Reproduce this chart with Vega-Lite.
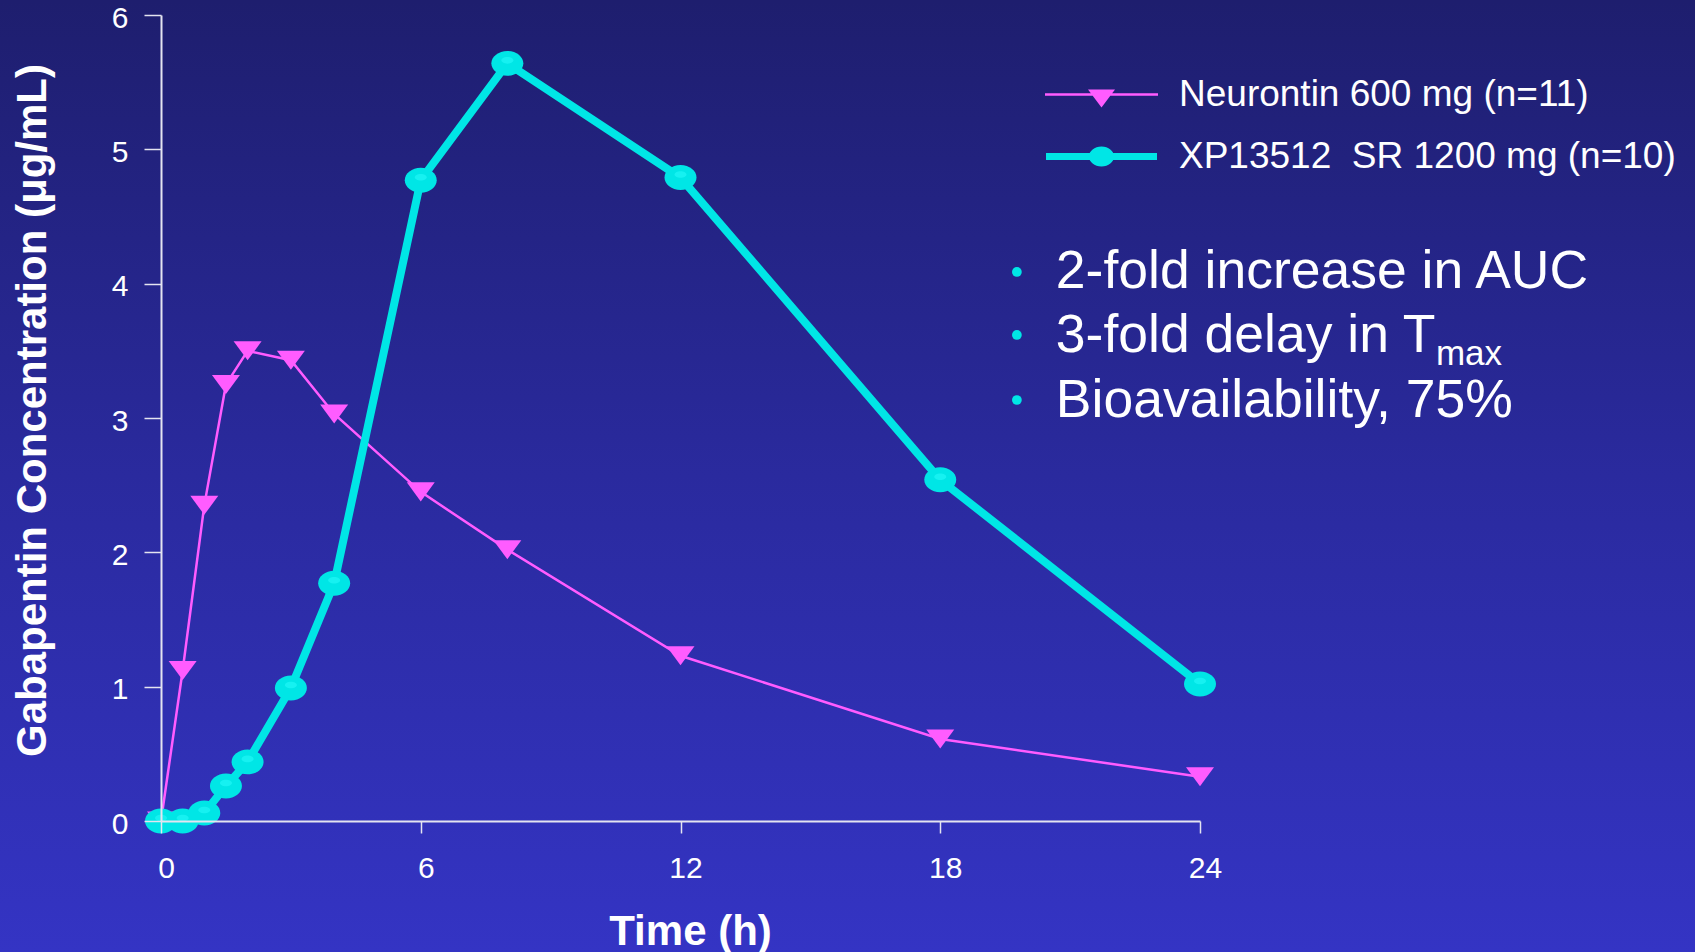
{
  "$schema": "https://vega.github.io/schema/vega-lite/v6.json",
  "width": 1039,
  "height": 806,
  "autosize": "none",
  "padding": {"left": 161, "top": 15, "right": 495, "bottom": 131},
  "background": "#2A2A9E",
  "config": {
    "font": "Liberation Sans",
    "view": {"stroke": null}
  },
  "data": {
    "values": [
      {"drug": "Neurontin 600 mg (n=11)", "time": 0, "conc": 0},
      {"drug": "Neurontin 600 mg (n=11)", "time": 0.5, "conc": 1.12},
      {"drug": "Neurontin 600 mg (n=11)", "time": 1, "conc": 2.35},
      {"drug": "Neurontin 600 mg (n=11)", "time": 1.5, "conc": 3.25},
      {"drug": "Neurontin 600 mg (n=11)", "time": 2, "conc": 3.5},
      {"drug": "Neurontin 600 mg (n=11)", "time": 3, "conc": 3.43},
      {"drug": "Neurontin 600 mg (n=11)", "time": 4, "conc": 3.03},
      {"drug": "Neurontin 600 mg (n=11)", "time": 6, "conc": 2.45},
      {"drug": "Neurontin 600 mg (n=11)", "time": 8, "conc": 2.02},
      {"drug": "Neurontin 600 mg (n=11)", "time": 12, "conc": 1.23},
      {"drug": "Neurontin 600 mg (n=11)", "time": 18, "conc": 0.61},
      {"drug": "Neurontin 600 mg (n=11)", "time": 24, "conc": 0.33},
      {"drug": "XP13512 SR 1200 mg (n=10)", "time": 0, "conc": 0},
      {"drug": "XP13512 SR 1200 mg (n=10)", "time": 0.5, "conc": 0},
      {"drug": "XP13512 SR 1200 mg (n=10)", "time": 1, "conc": 0.06},
      {"drug": "XP13512 SR 1200 mg (n=10)", "time": 1.5, "conc": 0.26},
      {"drug": "XP13512 SR 1200 mg (n=10)", "time": 2, "conc": 0.44},
      {"drug": "XP13512 SR 1200 mg (n=10)", "time": 3, "conc": 0.99},
      {"drug": "XP13512 SR 1200 mg (n=10)", "time": 4, "conc": 1.77},
      {"drug": "XP13512 SR 1200 mg (n=10)", "time": 6, "conc": 4.77},
      {"drug": "XP13512 SR 1200 mg (n=10)", "time": 8, "conc": 5.64},
      {"drug": "XP13512 SR 1200 mg (n=10)", "time": 12, "conc": 4.79},
      {"drug": "XP13512 SR 1200 mg (n=10)", "time": 18, "conc": 2.54},
      {"drug": "XP13512 SR 1200 mg (n=10)", "time": 24, "conc": 1.02}
    ]
  },
  "layer": [
    {
      "data": {"values": [{}]},
      "mark": {
        "type": "rect",
        "clip": false,
        "fill": {
          "gradient": "linear",
          "x1": 0, "y1": 0, "x2": 0, "y2": 1,
          "stops": [
            {"offset": 0.189, "color": "#1E1E6E"},
            {"offset": 0.543, "color": "#2A2A9E"},
            {"offset": 0.898, "color": "#3434C4"}
          ]
        }
      },
      "encoding": {
        "x": {
          "datum": -10, "type": "quantitative",
          "scale": {"domain": [0, 24], "nice": false, "zero": false},
          "axis": {
            "zindex": 1,
            "values": [0, 6, 12, 18, 24],
            "format": "d",
            "labelFlush": false,
            "labelOffset": 5,
            "title": "Time (h)",
            "grid": false,
            "domainColor": "#E4E4F0", "domainWidth": 2,
            "tickColor": "#E4E4F0", "tickWidth": 1.5, "tickSize": 12,
            "labelColor": "white", "labelFontSize": 30, "labelPadding": 20,
            "labelFont": "Liberation Sans",
            "titleColor": "white", "titleFontSize": 42, "titleFontWeight": "bold",
            "titleFont": "Liberation Sans",
            "titleX": 529, "titleY": 123, "titleBaseline": "alphabetic", "titleAlign": "center"
          }
        },
        "x2": {"datum": 40},
        "y": {
          "datum": -2, "type": "quantitative",
          "scale": {"domain": [0, 6], "nice": false, "zero": false},
          "axis": {
            "zindex": 1,
            "values": [0, 1, 2, 3, 4, 5, 6],
            "format": "d",
            "labelFlush": false,
            "labelOffset": 3,
            "title": "Gabapentin Concentration (μg/mL)",
            "grid": false,
            "domainColor": "#E4E4F0", "domainWidth": 2,
            "tickColor": "#E4E4F0", "tickWidth": 1.5, "tickSize": 17,
            "labelColor": "white", "labelFontSize": 30, "labelPadding": 16,
            "labelFont": "Liberation Sans",
            "titleColor": "white", "titleFontSize": 42, "titleFontWeight": "bold",
            "titleFont": "Liberation Sans",
            "titleX": -116, "titleY": 395, "titleBaseline": "alphabetic", "titleAlign": "center", "titleAngle": -90
          }
        },
        "y2": {"datum": 8}
      }
    },
    {
      "transform": [{"filter": "datum.drug === 'Neurontin 600 mg (n=11)'"}],
      "mark": {"type": "line", "strokeWidth": 2.5, "clip": false},
      "encoding": {
        "x": {"field": "time", "type": "quantitative", "scale": {"domain": [0, 24], "nice": false, "zero": false}},
        "y": {"field": "conc", "type": "quantitative", "scale": {"domain": [0, 6], "nice": false, "zero": false}},
        "color": {
          "field": "drug", "type": "nominal",
          "scale": {
            "domain": ["Neurontin 600 mg (n=11)", "XP13512 SR 1200 mg (n=10)"],
            "range": ["#FF5CFF", "#00E6E6"]
          },
          "legend": {
            "orient": "none",
            "legendX": 922,
            "legendY": 61,
            "title": null,
            "padding": 0,
            "symbolSize": 400,
            "symbolStrokeWidth": 0,
            "labelFontSize": 37,
            "labelFont": "Liberation Sans",
            "labelColor": "white",
            "labelOffset": 59,
            "labelLimit": 800,
            "rowPadding": 24,
            "labelExpr": "datum.label === 'XP13512 SR 1200 mg (n=10)' ? 'XP13512\u00a0\u00a0SR 1200 mg (n=10)' : datum.label",
            "encode": {
              "symbols": {
                "update": {
                  "shape": {"signal": "datum.value === 'Neurontin 600 mg (n=11)' ? 'M -5.65 -0.13 L 5.65 -0.13 L 5.65 0.13 L -5.65 0.13 Z M -1.35 -0.5 L 1.35 -0.5 L 0 1.3 Z' : 'M -5.55 -0.35 L 5.55 -0.35 L 5.55 0.35 L -5.55 0.35 Z M -1.25 0 A 1.25 1 0 1 1 1.25 0 A 1.25 1 0 1 1 -1.25 0 Z'"},
                  "fill": {"signal": "datum.value === 'Neurontin 600 mg (n=11)' ? '#FF5CFF' : '#00E6E6'"},
                  "stroke": {"value": "transparent"},
                  "strokeWidth": {"value": 0},
                  "opacity": {"value": 1}
                }
              }
            }
          }
        }
      }
    },
    {
      "transform": [{"filter": "datum.drug === 'Neurontin 600 mg (n=11)'"}],
      "mark": {
        "type": "point",
        "shape": "M -1 -0.68 L 1 -0.68 L 0 0.68 Z",
        "size": 784,
        "filled": true,
        "opacity": 1,
        "color": "#FF5CFF",
        "strokeWidth": 0,
        "clip": false
      },
      "encoding": {
        "x": {"field": "time", "type": "quantitative"},
        "y": {"field": "conc", "type": "quantitative"}
      }
    },
    {
      "transform": [{"filter": "datum.drug === 'XP13512 SR 1200 mg (n=10)'"}],
      "mark": {"type": "line", "strokeWidth": 8, "color": "#00E6E6", "clip": false},
      "encoding": {
        "x": {"field": "time", "type": "quantitative"},
        "y": {"field": "conc", "type": "quantitative"}
      }
    },
    {
      "transform": [{"filter": "datum.drug === 'XP13512 SR 1200 mg (n=10)'"}],
      "mark": {
        "type": "point",
        "shape": "M -1 0 A 1 0.78 0 1 1 1 0 A 1 0.78 0 1 1 -1 0 Z",
        "size": 1024,
        "filled": true,
        "opacity": 1,
        "color": "#00E6E6",
        "strokeWidth": 0,
        "clip": false
      },
      "encoding": {
        "x": {"field": "time", "type": "quantitative"},
        "y": {"field": "conc", "type": "quantitative"}
      }
    },
    {
      "transform": [{"filter": "datum.drug === 'XP13512 SR 1200 mg (n=10)'"}],
      "mark": {
        "type": "point",
        "shape": "M -1 0 A 1 0.55 0 1 1 1 0 A 1 0.55 0 1 1 -1 0 Z",
        "size": 144,
        "filled": true,
        "opacity": 0.45,
        "color": "#30FFFF",
        "strokeWidth": 0,
        "yOffset": -3,
        "clip": false
      },
      "encoding": {
        "x": {"field": "time", "type": "quantitative"},
        "y": {"field": "conc", "type": "quantitative"}
      }
    },
    {
      "data": {"values": [{"note": "2-fold increase in AUC"}]},
      "layer": [
        {
          "mark": {"type": "point", "shape": "circle", "size": 95, "filled": true, "opacity": 1, "color": "#00E6E6", "clip": false},
          "encoding": {
            "x": {"datum": 19.77, "type": "quantitative"},
            "y": {"datum": 4.087, "type": "quantitative"}
          }
        },
        {
          "mark": {"type": "text", "align": "left", "baseline": "alphabetic", "fontSize": 53.5, "font": "Liberation Sans", "color": "white", "clip": false},
          "encoding": {
            "x": {"datum": 20.67, "type": "quantitative"},
            "y": {"datum": 3.968, "type": "quantitative"},
            "text": {"field": "note"}
          }
        }
      ]
    },
    {
      "data": {"values": [{"note": "3-fold delay in T", "sub": "max"}]},
      "layer": [
        {
          "mark": {"type": "point", "shape": "circle", "size": 95, "filled": true, "opacity": 1, "color": "#00E6E6", "clip": false},
          "encoding": {
            "x": {"datum": 19.77, "type": "quantitative"},
            "y": {"datum": 3.618, "type": "quantitative"}
          }
        },
        {
          "mark": {"type": "text", "align": "left", "baseline": "alphabetic", "fontSize": 53.5, "font": "Liberation Sans", "color": "white", "clip": false},
          "encoding": {
            "x": {"datum": 20.67, "type": "quantitative"},
            "y": {"datum": 3.491, "type": "quantitative"},
            "text": {"field": "note"}
          }
        },
        {
          "mark": {"type": "text", "align": "left", "baseline": "alphabetic", "fontSize": 35, "font": "Liberation Sans", "color": "white", "clip": false},
          "encoding": {
            "x": {"datum": 29.45, "type": "quantitative"},
            "y": {"datum": 3.394, "type": "quantitative"},
            "text": {"field": "sub"}
          }
        }
      ]
    },
    {
      "data": {"values": [{"note": "Bioavailability, 75%"}]},
      "layer": [
        {
          "mark": {"type": "point", "shape": "circle", "size": 95, "filled": true, "opacity": 1, "color": "#00E6E6", "clip": false},
          "encoding": {
            "x": {"datum": 19.77, "type": "quantitative"},
            "y": {"datum": 3.134, "type": "quantitative"}
          }
        },
        {
          "mark": {"type": "text", "align": "left", "baseline": "alphabetic", "fontSize": 53.5, "font": "Liberation Sans", "color": "white", "clip": false},
          "encoding": {
            "x": {"datum": 20.67, "type": "quantitative"},
            "y": {"datum": 3.007, "type": "quantitative"},
            "text": {"field": "note"}
          }
        }
      ]
    }
  ]
}
